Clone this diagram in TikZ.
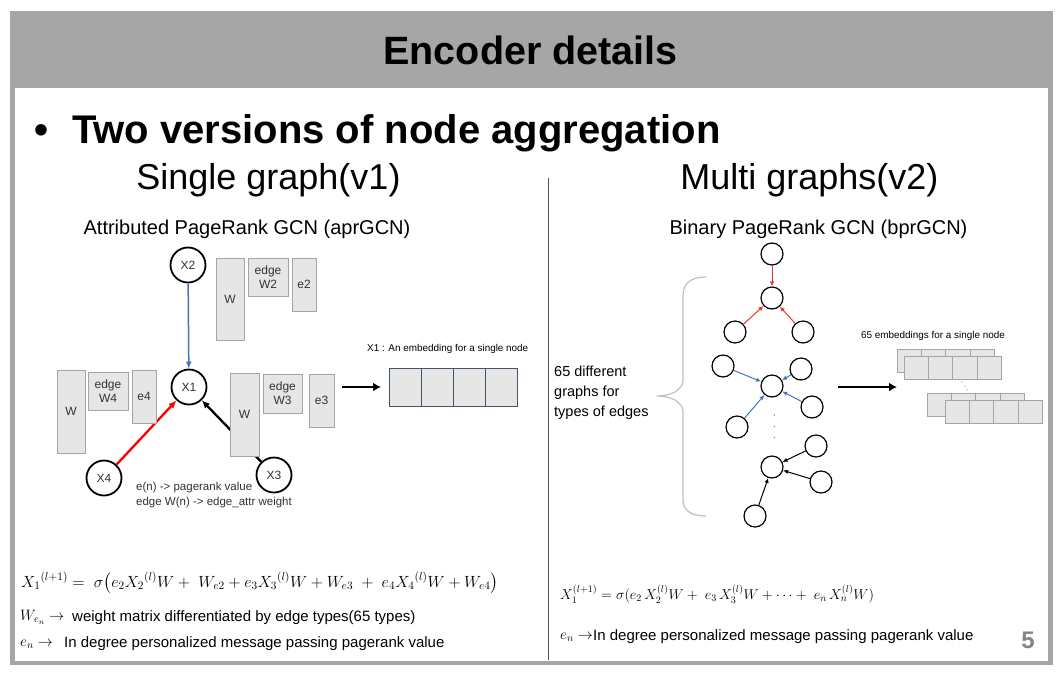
\RequirePackage{fix-cm}
\documentclass[tikz,border=0pt]{standalone}
\usepackage{amsmath}
\usepackage{fontspec}
\setmainfont{Liberation Sans}
\usetikzlibrary{arrows.meta}

\definecolor{framegray}{HTML}{A6A6A6}
\definecolor{boxfill}{HTML}{E7E6E6}
\definecolor{boxline}{HTML}{A5A5A5}
\definecolor{edgeblue}{HTML}{4472C4}
\definecolor{edgered}{HTML}{E8382F}
\definecolor{slate}{HTML}{44546A}
\definecolor{bracegray}{HTML}{C0C0C0}
\definecolor{inktext}{HTML}{333333}

\newcommand{\fsz}[1]{\fontsize{#1}{#1}\selectfont}

\begin{document}
\begin{tikzpicture}[x=1pt,y=-1pt,
  gnode/.style={circle, draw, line width=1.8pt, minimum size=35pt, inner sep=0pt,
    fill=white, text=inktext, font=\fsz{12}},
  snode/.style={circle, draw, line width=1.2pt, minimum size=22pt, inner sep=0pt, fill=white},
  rbox/.style={draw=boxline, fill=boxfill, line width=0.8pt, inner sep=0pt,
    text=inktext, align=center, font=\fontsize{12}{14}\selectfont},
  ecell/.style={draw=slate, fill=boxfill, line width=0.8pt, inner sep=0pt,
    minimum width=32pt, minimum height=38pt},
  scell/.style={draw=boxline, fill=boxfill, line width=0.7pt, inner sep=0pt,
    minimum width=24.4pt, minimum height=23pt},
  bigarrow/.style={line width=2.8pt, -{Latex[length=8pt,width=9pt]}},
  thinarrow/.style={line width=1pt, -{Latex[length=5pt,width=4.5pt]}},
  plain/.style={inner sep=0pt, text=black}
]
\useasboundingbox (0,0) rectangle (1059,673);
\fill[white] (0,0) rectangle (1059,673);
% slide frame
\fill[framegray] (10,11) rectangle (1053,665);
\fill[white] (15,88) rectangle (1048,661);

% headings
\node[plain, anchor=base, font=\fsz{39.5}\bfseries] (title) at (530.5,64) {Encoder details};
\node[plain, anchor=base, font=\fsz{40}\bfseries] (bullet) at (42,143) {\textbullet};
\node[plain, anchor=base west, font=\fsz{40}\bfseries] (head) at (72,143) {Two versions of node aggregation};
\node[plain, anchor=base, font=\fsz{36}] (v1) at (268.5,189) {Single graph(v1)};
\node[plain, anchor=base, font=\fsz{36}] (v2) at (809.5,189) {Multi graphs(v2)};
\node[plain, anchor=base, font=\fsz{20}] (apr) at (247,234) {Attributed PageRank GCN (aprGCN)};
\node[plain, anchor=base, font=\fsz{20}] (bpr) at (818.5,234) {Binary PageRank GCN (bprGCN)};

% column divider
\draw[slate, line width=0.8pt] (548,178) -- (548,660);

% ---------- single graph (v1) ----------
\node[gnode] (x2) at (188,265) {X2};
\node[gnode] (x1) at (189,387) {X1};
\node[gnode] (x4) at (104,478) {X4};
\node[gnode] (x3) at (274,475) {X3};

\draw[edgeblue, line width=1.5pt, -{Latex[length=7pt,width=6pt]}] (x2) -- (x1);
\draw[red, line width=2.3pt, -{Latex[length=8pt,width=7pt]}] (x4) -- (x1);
\draw[black, line width=2.3pt, -{Latex[length=8pt,width=7pt]}] (x3) -- (x1);

% edge weights and pagerank values
\node[rbox, minimum width=28pt, minimum height=82pt] (w2) at (230,299) {W};
\node[rbox, minimum width=40pt, minimum height=38pt] (ew2) at (268,277) {edge\\W2};
\node[rbox, minimum width=24pt, minimum height=53pt] (e2) at (304,284.5) {e2};

\node[rbox, minimum width=28pt, minimum height=83pt] (w4) at (71,411.5) {W};
\node[rbox, minimum width=40pt, minimum height=38pt] (ew4) at (108,391) {edge\\W4};
\node[rbox, minimum width=24pt, minimum height=53pt] (e4) at (144,396.5) {e4};

\node[rbox, minimum width=29pt, minimum height=83pt] (w3) at (244.5,414.5) {W};
\node[rbox, minimum width=39pt, minimum height=39pt] (ew3) at (282.5,393.5) {edge\\W3};
\node[rbox, minimum width=25pt, minimum height=53pt] (e3) at (321.5,400.5) {e3};

\node[plain, anchor=north west, align=left, text=inktext, font=\fontsize{11.5}{15}\selectfont]
  (legend) at (136,482) {e(n) -> pagerank value\\edge W(n) -> edge\_attr weight};

% single-node embedding
\coordinate (a1s) at (342,387);
\coordinate (a1e) at (381,387);
\draw[bigarrow] (a1s) -- (a1e);
\node[ecell] (c1) at (405,387) {};
\node[ecell] (c2) at (437,387) {};
\node[ecell] (c3) at (469,387) {};
\node[ecell] (c4) at (501,387) {};
\node[plain, anchor=base west, font=\fsz{9.9}] (emb1) at (367,351) {X1 : An embedding for a single node};

% ---------- multi graphs (v2) ----------
\node[plain, anchor=north west, align=left, font=\fontsize{14.5}{20}\selectfont]
  (types) at (554,366) {65 different\\graphs for\\types of edges};

\draw[bracegray, line width=1.2pt]
  (706,277) .. controls (691,277) and (683,283) .. (683,296) -- (683,380)
  .. controls (683,390) and (671,396) .. (657,396)
  .. controls (671,396) and (683,402) .. (683,412) -- (683,500)
  .. controls (683,510) and (691,516) .. (706,516);

% graph 1
\node[snode] (t1) at (772,254) {};
\node[snode] (m1) at (772,298) {};
\node[snode] (l1) at (735,332) {};
\node[snode] (r1) at (803,332) {};
\draw[thinarrow, edgered] (t1) -- (m1);
\draw[thinarrow, edgered] (l1) -- (m1);
\draw[thinarrow, edgered] (r1) -- (m1);

% graph 2
\node[snode] (m2) at (772,386) {};
\node[snode] (a2) at (723,366) {};
\node[snode] (b2) at (801,369) {};
\node[snode] (d2) at (812,407) {};
\node[snode] (f2) at (737,427) {};
\draw[thinarrow, edgeblue] (a2) -- (m2);
\draw[thinarrow, edgeblue] (b2) -- (m2);
\draw[thinarrow, edgeblue] (d2) -- (m2);
\draw[thinarrow, edgeblue] (f2) -- (m2);

\fill[edgeblue] (774.3,415) circle (0.7) (774.3,426.7) circle (0.7) (774.3,437.3) circle (0.7);

% graph 3
\node[snode] (m3) at (772,467) {};
\node[snode] (a3) at (816,446) {};
\node[snode] (b3) at (821,482) {};
\node[snode] (d3) at (755,516) {};
\draw[thinarrow, black] (a3) -- (m3);
\draw[thinarrow, black] (b3) -- (m3);
\draw[thinarrow, black] (d3) -- (m3);

% stacked embeddings
\coordinate (a2s) at (838,387);
\coordinate (a2e) at (897,387);
\draw[bigarrow] (a2s) -- (a2e);
\node[plain, anchor=base west, font=\fsz{9.9}] (emb65) at (861,338) {65 embeddings for a single node};

\foreach \i in {0,1,2,3} {
  \node[scell] (pa\i) at ({909.2+24.4*\i},360.5) {};
}
\foreach \i in {0,1,2,3} {
  \node[scell] (pb\i) at ({916.2+24.4*\i},367.5) {};
}
\fill[gray] (962,382) circle (0.6) (965,386) circle (0.6) (967,390) circle (0.6);
\foreach \i in {0,1,2,3} {
  \node[scell] (qa\i) at ({939.2+24.4*\i},404.5) {};
}
\foreach \i in {0,1,2,3} {
  \node[scell] (qb\i) at ({957.2+24.4*\i},411.5) {};
}

% ---------- formulas ----------
\node[plain, anchor=west, font=\fsz{16.2}] (f1) at (21,583)
  {${X_1}^{(l+1)} =\ \sigma\big(e_2 {X_2}^{(l)}W +\ W_{e2} + e_3 {X_3}^{(l)}W + W_{e3}\ +\ e_4 {X_4}^{(l)}W + W_{e4}\big)$};
\node[plain, anchor=west, font=\fsz{15}] (wl) at (20,617) {$W_{e_n}\rightarrow$};
\node[plain, anchor=west, font=\fsz{15}] (wt) at (72,618) {weight matrix differentiated by edge types(65 types)};
\node[plain, anchor=west, font=\fsz{15}] (el) at (20,644) {$e_n\rightarrow$};
\node[plain, anchor=west, font=\fsz{15}] (et) at (64,644) {In degree personalized message passing pagerank value};

\node[plain, anchor=west, font=\fsz{14.3}] (f2) at (560,594)
  {$X_1^{(l+1)} = \sigma(e_2\, X_2^{(l)}W +\ e_3\, X_3^{(l)}W + \cdots +\ e_n\, X_n^{(l)}W)$};
\node[plain, anchor=west, font=\fsz{15}] (el2) at (560,637) {$e_n\rightarrow$};
\node[plain, anchor=west, font=\fsz{15}] (et2) at (593,637) {In degree personalized message passing pagerank value};

\node[plain, font=\fsz{24}\bfseries, text=framegray!80!black] (pg) at (1028,640) {5};
\end{tikzpicture}
\end{document}
